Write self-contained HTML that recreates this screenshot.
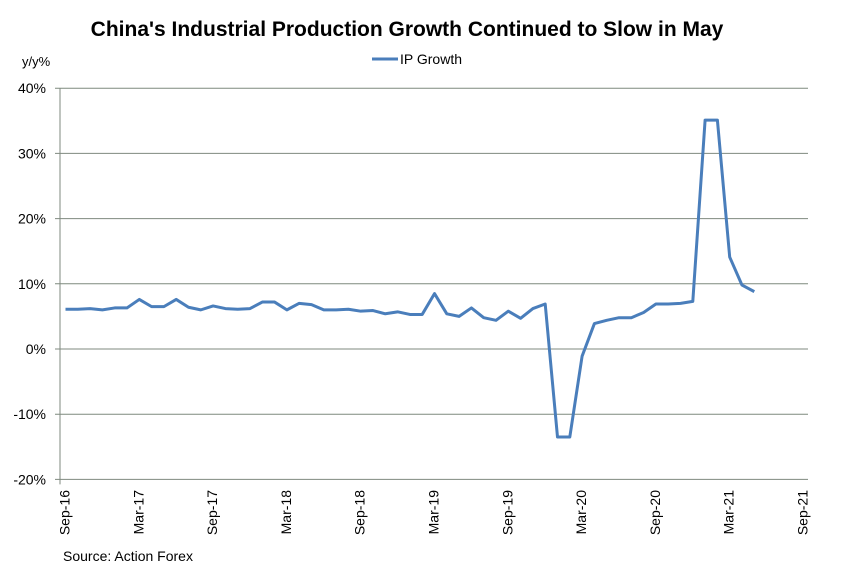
<!DOCTYPE html>
<html><head><meta charset="utf-8"><style>
body{margin:0;background:#fff;}
svg text{font-family:"Liberation Sans",Arial,sans-serif;fill:#000;}
</style></head><body>
<svg id="chart" width="863" height="568">
<text x="407" y="36" font-size="21" font-weight="bold" text-anchor="middle">China's Industrial Production Growth Continued to Slow in May</text>
<text x="22" y="66" font-size="13">y/y%</text>
<g>
<line x1="372" y1="59" x2="398" y2="59" stroke="#4a7ebb" stroke-width="3"/>
<text x="400" y="64" font-size="14">IP Growth</text>
</g>
<g id="grid"></g><g id="axes"></g><g id="series"></g>
<text x="63" y="561" font-size="14">Source: Action Forex</text>
</svg>
<script>
const values=[6.1,6.1,6.2,6.0,6.3,6.3,7.6,6.5,6.5,7.6,6.4,6.0,6.6,6.2,6.1,6.2,7.2,7.2,6.0,7.0,6.8,6.0,6.0,6.1,5.8,5.9,5.4,5.7,5.3,5.3,8.5,5.4,5.0,6.3,4.8,4.4,5.8,4.7,6.2,6.9,-13.5,-13.5,-1.1,3.9,4.4,4.8,4.8,5.6,6.9,6.9,7.0,7.3,35.1,35.1,14.1,9.8,8.8];
const yTicks=[40,30,20,10,0,-10,-20];
const xLabels=["Sep-16","Mar-17","Sep-17","Mar-18","Sep-18","Mar-19","Sep-19","Mar-20","Sep-20","Mar-21","Sep-21"];
const NS="http://www.w3.org/2000/svg";
const y=v=>349-v*6.52;
const x=i=>65.5+i*12.3;
const grid=document.getElementById('grid'),axes=document.getElementById('axes'),ser=document.getElementById('series');
function mk(tag,attrs,parent){const e=document.createElementNS(NS,tag);for(const k in attrs)e.setAttribute(k,attrs[k]);parent.appendChild(e);return e;}
yTicks.forEach(t=>{
 const l=mk('line',{x1:55,x2:808,y1:y(t),y2:y(t),stroke:'#7f8a7f','stroke-width':1},grid);
 
 
 const tx=mk('text',{x:46,y:y(t)+5,'font-size':14,'text-anchor':'end'},axes);
 tx.textContent=t+'%';
 
 
});
const ax=mk('line',{x1:60,x2:60,y1:y(40),y2:y(-20)+5,stroke:'#7f8a7f'},axes);


xLabels.forEach((s,k)=>{
 const cx=x(k*6)-1;
 const tx=mk('text',{x:0,y:0,'font-size':14,'text-anchor':'end',transform:`translate(${cx+5},490) rotate(-90)`},axes);
 tx.textContent=s;
 
 
});
const p=mk('polyline',{points:values.map((v,i)=>x(i)+','+y(v)).join(' '),fill:'none',stroke:'#4a7ebb','stroke-width':3,'stroke-linejoin':'round'},ser);


</script>
</body></html>
